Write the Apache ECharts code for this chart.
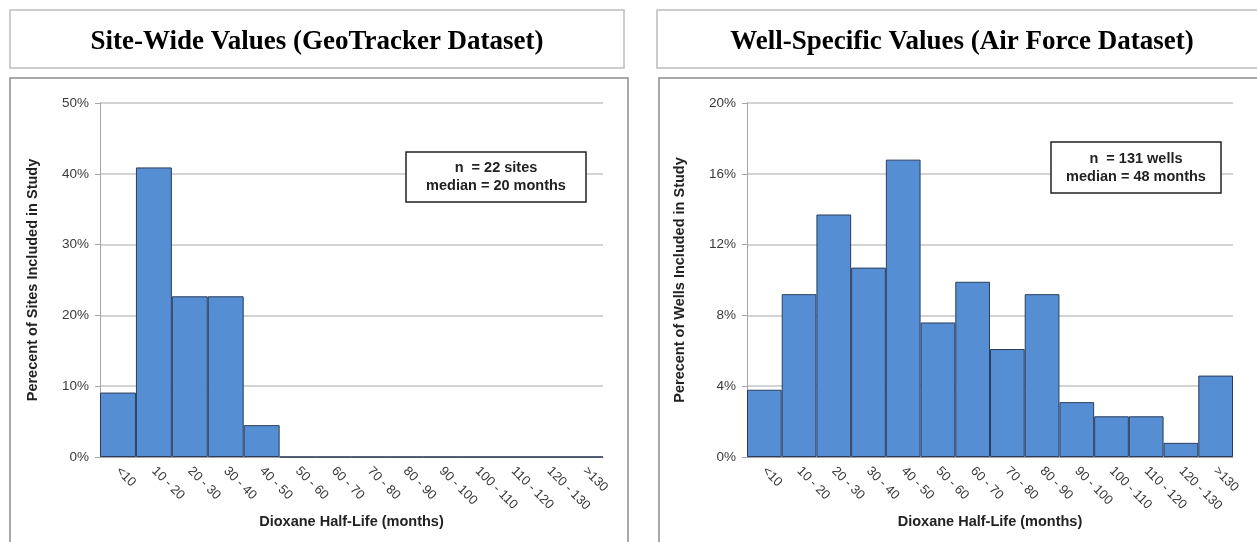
<!DOCTYPE html>
<html>
<head>
<meta charset="utf-8">
<script src="https://cdn.jsdelivr.net/npm/echarts@6/dist/echarts.min.js"></script>
<style>
  html, body { margin: 0; padding: 0; background: #fff; }
  #chart { width: 1257px; height: 542px; }
</style>
</head>
<body>
<div id="chart"></div>
<script>
const categories = ['<10', '10 - 20', '20 - 30', '30 - 40', '40 - 50', '50 - 60', '60 - 70',
  '70 - 80', '80 - 90', '90 - 100', '100 - 110', '110 - 120', '120 - 130', '>130'];
// percent of sites (n = 22)
const siteValues = [9.1, 40.9, 22.7, 22.7, 4.5, 0, 0, 0, 0, 0, 0, 0, 0, 0];
// percent of wells (n = 131)
const wellValues = [3.8, 9.2, 13.7, 10.7, 16.8, 7.6, 9.9, 6.1, 9.2, 3.1, 2.3, 2.3, 0.8, 4.6];
const panelTitles = ['Site-Wide Values (GeoTracker Dataset)', 'Well-Specific Values (Air Force Dataset)'];
const yNames = ['Perecent of Sites Included in Study', 'Perecent of Wells Included in Study'];
const xName = 'Dioxane Half-Life (months)';
const notes = [['n  = 22 sites', 'median = 20 months'], ['n  = 131 wells', 'median = 48 months']];

const chart = echarts.init(document.getElementById('chart'));

const sans = 'Liberation Sans, Arial, sans-serif';
const labelFont = { fontFamily: sans, fontSize: 13.5, color: '#3a3a3a' };
const nameFont = { fontFamily: sans, fontSize: 14.5, fontWeight: 'bold', color: '#222' };
const barStyle = { color: '#568ED4', borderColor: '#2C3D5B', borderWidth: 1 };

function xAxis(gridIndex) {
  return {
    type: 'category',
    gridIndex,
    data: categories,
    name: xName,
    nameLocation: 'middle',
    nameGap: 57,
    nameMoveOverlap: false,
    nameTextStyle: nameFont,
    axisLine: { lineStyle: { color: '#A6A6A6' } },
    axisTick: { length: 5, lineStyle: { color: '#A6A6A6' } },
    axisLabel: Object.assign({ rotate: -45, interval: 0, margin: 12 }, labelFont, { fontSize: 13 })
  };
}

function yAxis(gridIndex, max, interval, name) {
  return {
    type: 'value',
    gridIndex,
    min: 0,
    max,
    interval,
    name,
    nameLocation: 'middle',
    nameGap: 60,
    nameMoveOverlap: false,
    nameTextStyle: nameFont,
    axisLine: { show: true, lineStyle: { color: '#A6A6A6' } },
    axisTick: { show: true, length: 5, lineStyle: { color: '#A6A6A6' } },
    splitLine: { lineStyle: { color: '#C4C4C4', width: 1.5 } },
    axisLabel: Object.assign({ margin: 11, formatter: '{value}%' }, labelFont)
  };
}

function noteBox(x, y, w, h, lines) {
  return {
    type: 'group',
    x, y,
    z: 100,
    children: [
      { type: 'rect', z: 100, shape: { x: 0, y: 0, width: w, height: h },
        style: { fill: '#fff', stroke: '#222', lineWidth: 1.5 } },
      { type: 'text', z: 101, x: w / 2, y: h / 2,
        style: { text: lines.join('\n'), align: 'center', verticalAlign: 'middle',
          font: 'bold 14.5px Liberation Sans, Arial, sans-serif', fill: '#222', lineHeight: 18 } }
    ]
  };
}

function titleBox(x, w, text) {
  return {
    type: 'group',
    x, y: 10,
    children: [
      { type: 'rect', shape: { x: 0, y: 0, width: w, height: 58 },
        style: { fill: '#fff', stroke: '#BDBDBD', lineWidth: 1.5 } },
      { type: 'text', x: w / 2, y: 32,
        style: { text, align: 'center', verticalAlign: 'middle',
          font: 'bold 27px Liberation Serif, Times New Roman, serif', fill: '#000' } }
    ]
  };
}

const option = {
  animation: false,
  graphic: [
    titleBox(10, 614, panelTitles[0]),
    titleBox(657, 610, panelTitles[1]),
    { type: 'rect', shape: { x: 10, y: 78, width: 618, height: 480 },
      style: { fill: 'none', stroke: '#8C8C8C', lineWidth: 1.5 }, z: -1 },
    { type: 'rect', shape: { x: 659, y: 78, width: 610, height: 480 },
      style: { fill: 'none', stroke: '#8C8C8C', lineWidth: 1.5 }, z: -1 },
    noteBox(406, 152, 180, 50, notes[0]),
    noteBox(1051, 142, 170, 51, notes[1])
  ],
  grid: [
    { left: 100, top: 103, width: 503, height: 354 },
    { left: 747, top: 103, width: 486, height: 354 }
  ],
  xAxis: [xAxis(0), xAxis(1)],
  yAxis: [yAxis(0, 50, 10, yNames[0]), yAxis(1, 20, 4, yNames[1])],
  series: [
    { type: 'bar', xAxisIndex: 0, yAxisIndex: 0, data: siteValues,
      barCategoryGap: 0, itemStyle: barStyle },
    { type: 'bar', xAxisIndex: 1, yAxisIndex: 1, data: wellValues,
      barCategoryGap: 0, itemStyle: barStyle }
  ]
};

chart.setOption(option);
</script>
</body>
</html>
